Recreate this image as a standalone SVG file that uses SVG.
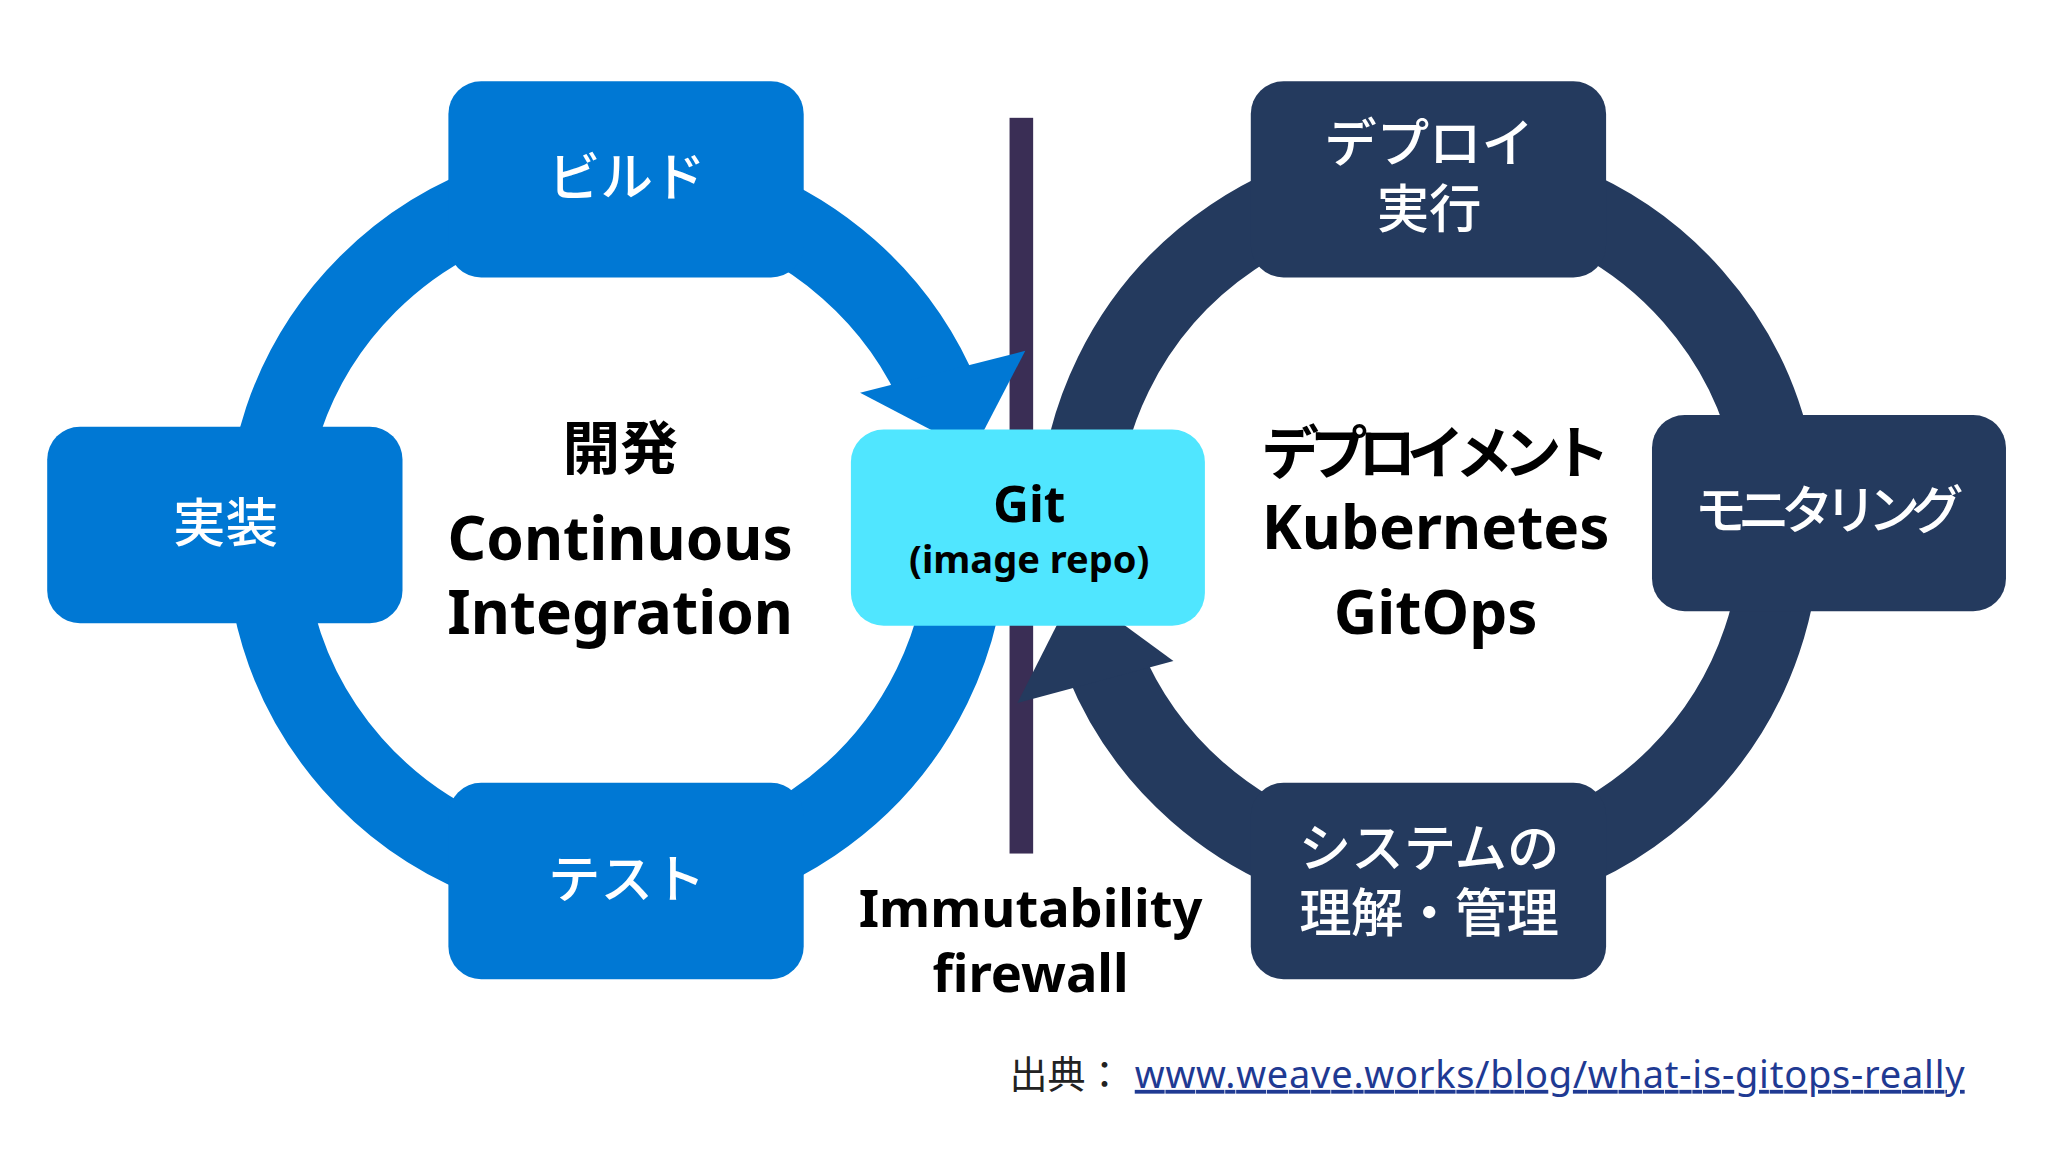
<svg xmlns="http://www.w3.org/2000/svg" width="2048" height="1152" viewBox="0 0 2048 1152">
<style>
.t{font-family:"Noto Sans","Noto Sans CJK JP",sans-serif;text-anchor:middle}
.w{fill:#fff;font-size:40px;font-weight:500}
.b{fill:#000;font-weight:700}
.blue{fill:#0078D4}
.dark{fill:#243A5E}
</style>
<rect width="2048" height="1152" fill="#fff"/>
<g transform="scale(1.3111 1.3091)">
<g id="connectors">
<rect id="firewall-line" x="770" y="90" width="18" height="562" fill="#3A2E55"/>
<path d="M738,405 A268,268 0 1 1 718,305" fill="none" stroke="#0078D4" stroke-width="60"/>
<polygon points="656,300 782,268 742,345" fill="#0078D4"/>
<path d="M822,405 A268,268 0 1 1 842,505" fill="none" stroke="#243A5E" stroke-width="60"/>
<polygon points="776,537 895,505 820,450" fill="#243A5E"/>
</g>
<g id="build"><rect x="342" y="62" width="271" height="150" rx="25" class="blue"/><text class="t w" x="478" y="150">ビルド</text></g>
<g id="impl"><rect x="36" y="326" width="271" height="150" rx="25" class="blue"/><text class="t w" x="172" y="414">実装</text></g>
<g id="test"><rect x="342" y="598" width="271" height="150" rx="25" class="blue"/><text class="t w" x="478" y="686">テスト</text></g>
<g id="deploy"><rect x="954" y="62" width="271" height="150" rx="25" class="dark"/><text class="t w" x="1090" y="124">デプロイ</text><text class="t w" x="1090" y="174">実行</text></g>
<g id="monitor"><rect x="1260" y="317" width="270" height="150" rx="25" class="dark"/><text class="t w" x="1395" y="404" font-size="38" textLength="205">モニタリング</text></g>
<g id="understand"><rect x="954" y="598" width="271" height="150" rx="25" class="dark"/><text class="t w" x="1090" y="662">システムの</text><text class="t w" x="1090" y="712" textLength="198">理解・管理</text></g>
<g id="git"><rect x="649" y="328" width="270" height="150" rx="25" fill="#50E6FF"/><text class="t b" x="785" y="399" font-size="38">Git</text><text class="t b" x="785" y="438" font-size="29">(image repo)</text></g>
<g id="ci-label"><text class="t b" x="473" y="358" font-size="44" font-weight="500">開発</text><text class="t b" x="473" y="428" font-size="46">Continuous</text><text class="t b" x="473" y="484" font-size="46">Integration</text></g>
<g id="cd-label"><text class="t b" x="1095" y="362" font-size="44" font-weight="500" textLength="266">デプロイメント</text><text class="t b" x="1095" y="419" font-size="46">Kubernetes</text><text class="t b" x="1095" y="484" font-size="46">GitOps</text></g>
<g id="firewall-label"><text class="t b" x="786" y="708" font-size="40">Immutability</text><text class="t b" x="786" y="758" font-size="40">firewall</text></g>
<g id="source"><text class="t" x="770" y="831" font-size="29" fill="#222" style="text-anchor:start">出典：</text><text class="t" x="1182" y="831" font-size="29" fill="#1F3A93" text-decoration="underline" textLength="633">www.weave.works/blog/what-is-gitops-really</text></g>
</g>
</svg>
